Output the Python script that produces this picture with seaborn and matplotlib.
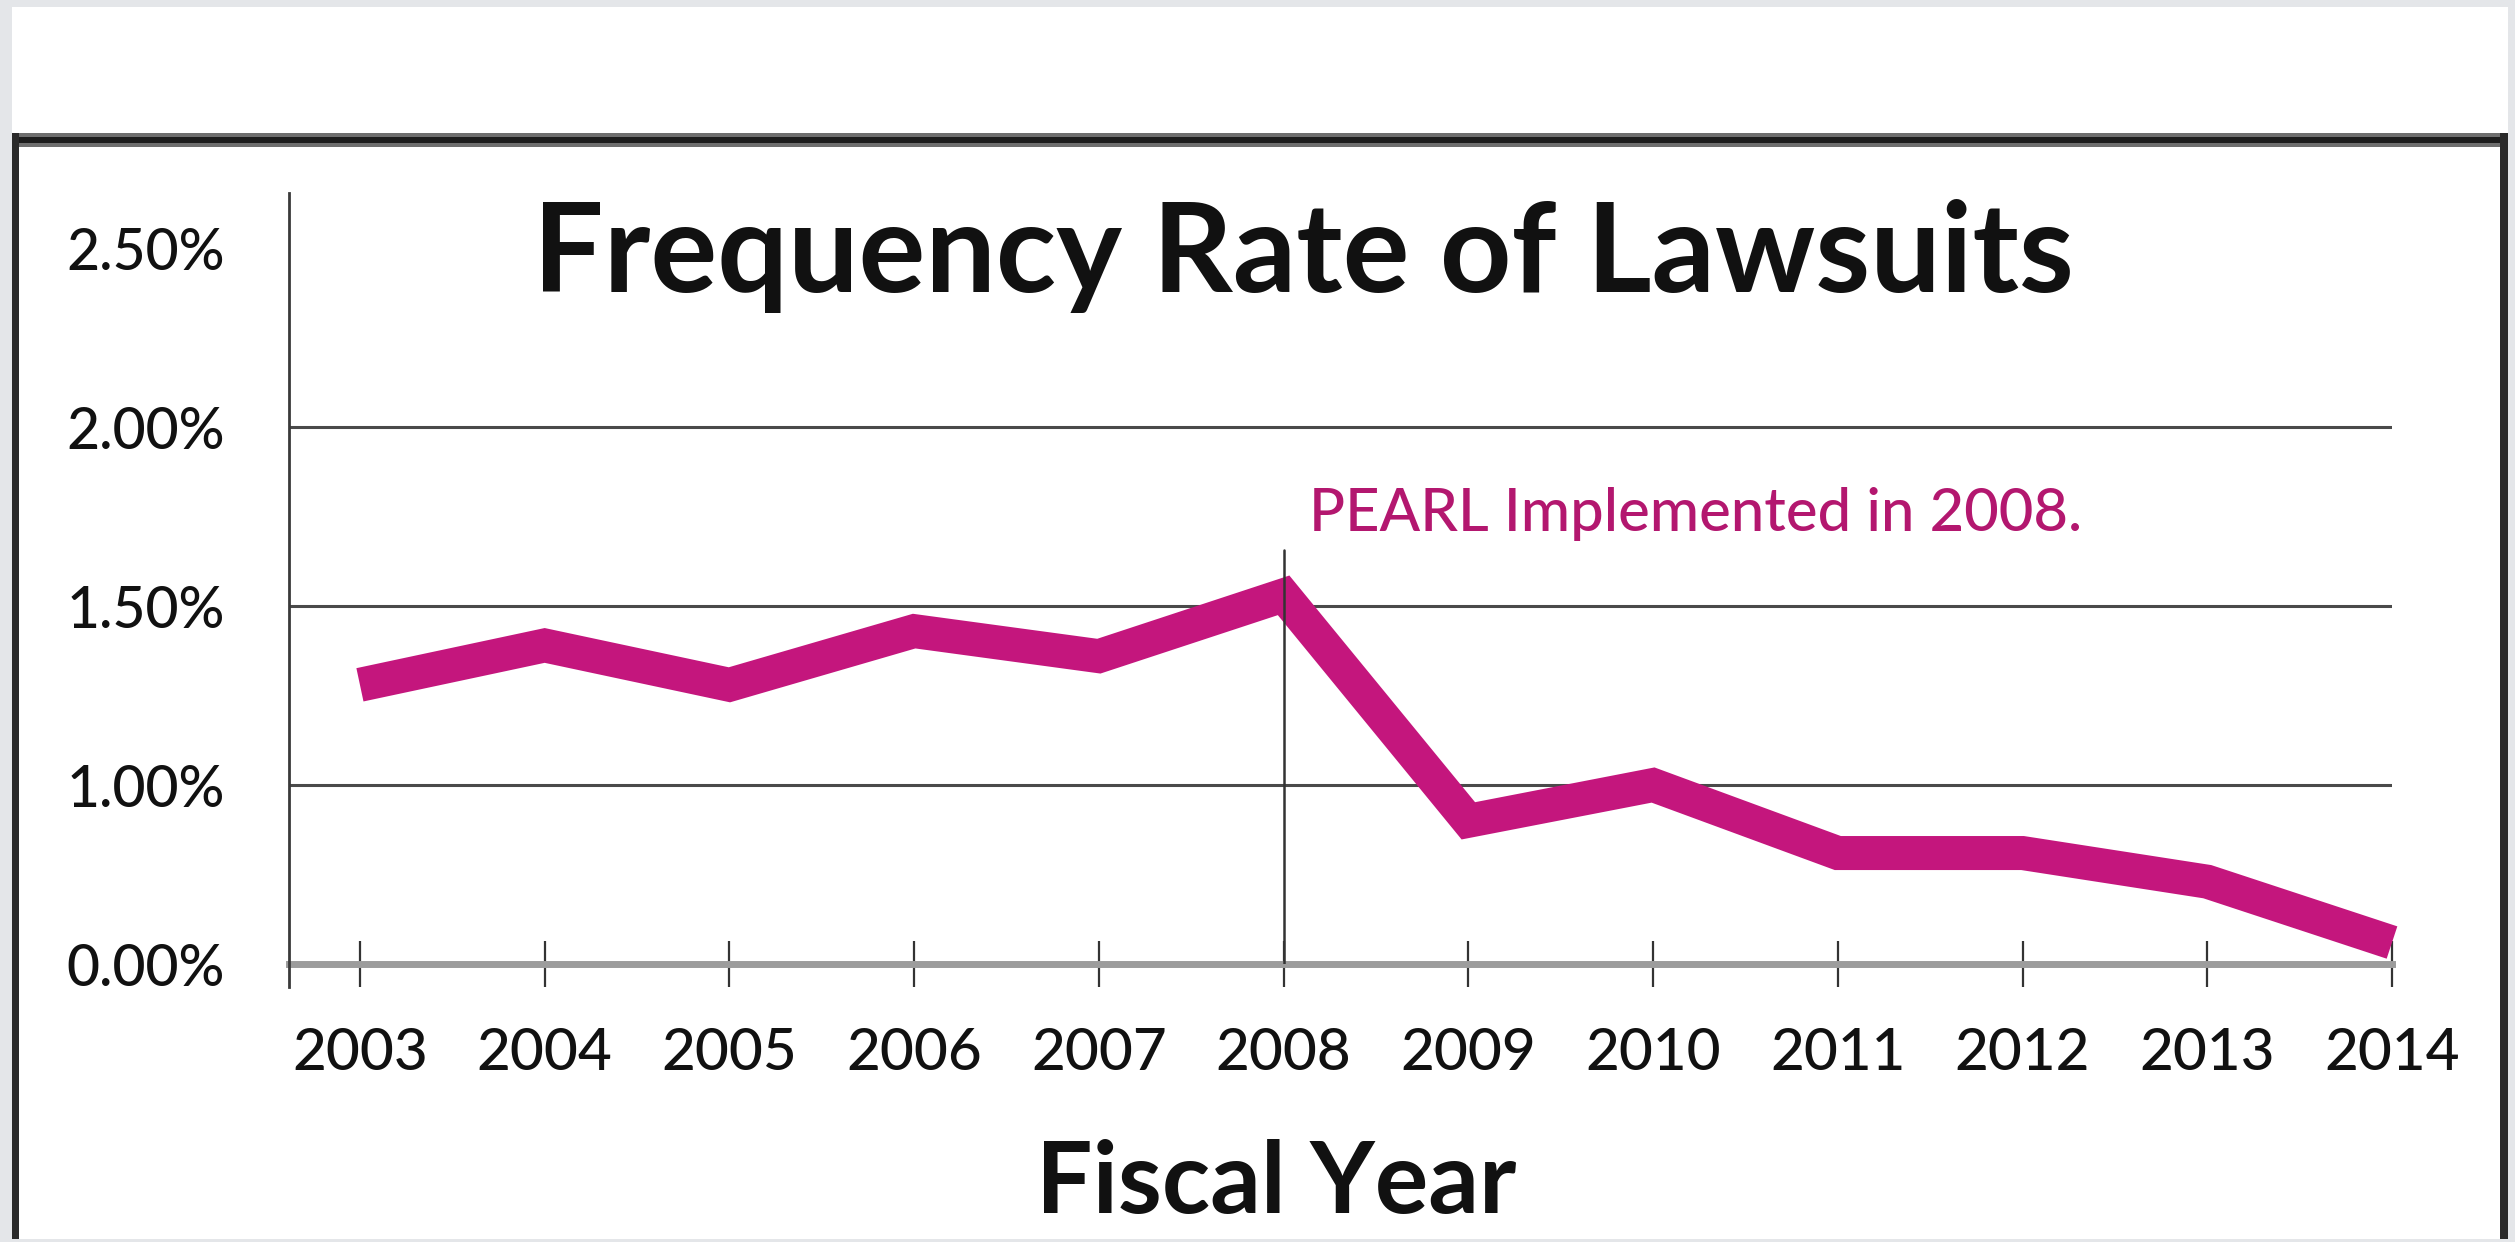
import matplotlib
matplotlib.use("Agg")
import matplotlib.pyplot as plt
import seaborn as sns
import pandas as pd
from matplotlib.patches import Rectangle

# ---------------- data ----------------
years = [2003, 2004, 2005, 2006, 2007, 2008, 2009, 2010, 2011, 2012, 2013, 2014]
rates = [1.28, 1.39, 1.28, 1.43, 1.36, 1.53, 0.90, 1.00, 0.81, 0.81, 0.73, 0.56]
ytick_values = [0.5, 1.0, 1.5, 2.0, 2.5]
ytick_labels = ["0.00%", "1.00%", "1.50%", "2.00%", "2.50%"]
xtick_labels = [str(y) for y in years]
title_text = "Frequency Rate of Lawsuits"
xlabel_text = "Fiscal Year"
note_text = "PEARL Implemented in 2008."
event_year = 2008

df = pd.DataFrame({"year": years, "rate": rates})

# ---------------- style ----------------
sns.set_theme(style="white")
FONTS = ["Lato", "DejaVu Sans"]
plt.rcParams["font.family"] = FONTS

LINE_COLOR = "#c4167d"
NOTE_COLOR = "#b3176f"
GRID_COLOR = "#4a4a4a"
TEXT_COLOR = "#111111"

W, H = 2515, 1242
fig = plt.figure(figsize=(W / 100, H / 100), dpi=100, facecolor="#e4e6e9")


def fx(px):
    return px / W


def fy(py):
    return 1 - py / H


def rect(x0, y0, x1, y1, color, z=-5):
    fig.add_artist(Rectangle((fx(x0), fy(y1)), fx(x1) - fx(x0), fy(y0) - fy(y1),
                             transform=fig.transFigure, facecolor=color,
                             edgecolor="none", zorder=z))


# white page and dark frame
rect(12, 7, 2508, 1239, "white", z=-6)
rect(12, 133, 2508, 147, "#6e6e6e")
rect(12, 137, 2508, 143, "#1c1c1c")
rect(12, 133, 19, 1239, "#2a2a2a")
rect(2500, 133, 2508, 1239, "#2a2a2a")

# ---------------- axes ----------------
ax = fig.add_axes([fx(289), fy(964), fx(2392) - fx(289), fy(193) - fy(964)])
ax.set_facecolor("none")

sns.lineplot(data=df, x="year", y="rate", ax=ax, color=LINE_COLOR,
             linewidth=24.5, solid_joinstyle="miter", solid_capstyle="butt",
             clip_on=False, zorder=3)

ax.set_xlim(2002.616, 2014)
ax.set_ylim(0.5, 2.654)

ax.set_xticks(years, xtick_labels)
ax.set_yticks(ytick_values, ytick_labels)

# horizontal grid (no line at the top label)
ax.yaxis.grid(True, color=GRID_COLOR, linewidth=2.2)
ax.xaxis.grid(False)
for t in ax.yaxis.get_major_ticks():
    if t.get_loc() >= 2.5 or t.get_loc() <= 0.5:
        t.gridline.set_visible(False)

for s in ["top", "right"]:
    ax.spines[s].set_visible(False)
ax.spines["left"].set_color("#3a3a3a")
ax.spines["left"].set_linewidth(2)
ax.spines["left"].set_bounds(0.5 - 23 / 358, 2.654)
ax.spines["bottom"].set_color("#9c9c9c")
ax.spines["bottom"].set_linewidth(5)
ax.spines["bottom"].set_zorder(2)

ax.tick_params(axis="x", direction="inout", length=33, width=1.6,
               color="#333333", pad=29, labelsize=42, labelcolor=TEXT_COLOR,
               bottom=True)
ax.tick_params(axis="y", length=0, pad=46, labelsize=41, labelcolor=TEXT_COLOR,
               left=True)
for lab in ax.get_xticklabels() + ax.get_yticklabels():
    lab.set_fontweight("medium")

# event marker
ax.plot([event_year, event_year], [0.5, 1.656], color="#333333", lw=1.8, zorder=4)
ax.annotate(note_text, xy=(event_year, 1.656), xytext=(18, 14),
            textcoords="offset points", ha="left", va="baseline",
            fontsize=43, fontweight="medium", color=NOTE_COLOR)

ax.set_xlabel(xlabel_text, fontsize=72, fontweight="bold", color=TEXT_COLOR,
              va="baseline")
ax.xaxis.set_label_coords(0.4693, -0.323)
ax.set_ylabel("")

fig.text(fx(1303), fy(292), title_text, ha="center", va="baseline",
         fontsize=90, fontweight="bold", color=TEXT_COLOR)

fig.savefig("out.png", dpi=100, facecolor=fig.get_facecolor())
